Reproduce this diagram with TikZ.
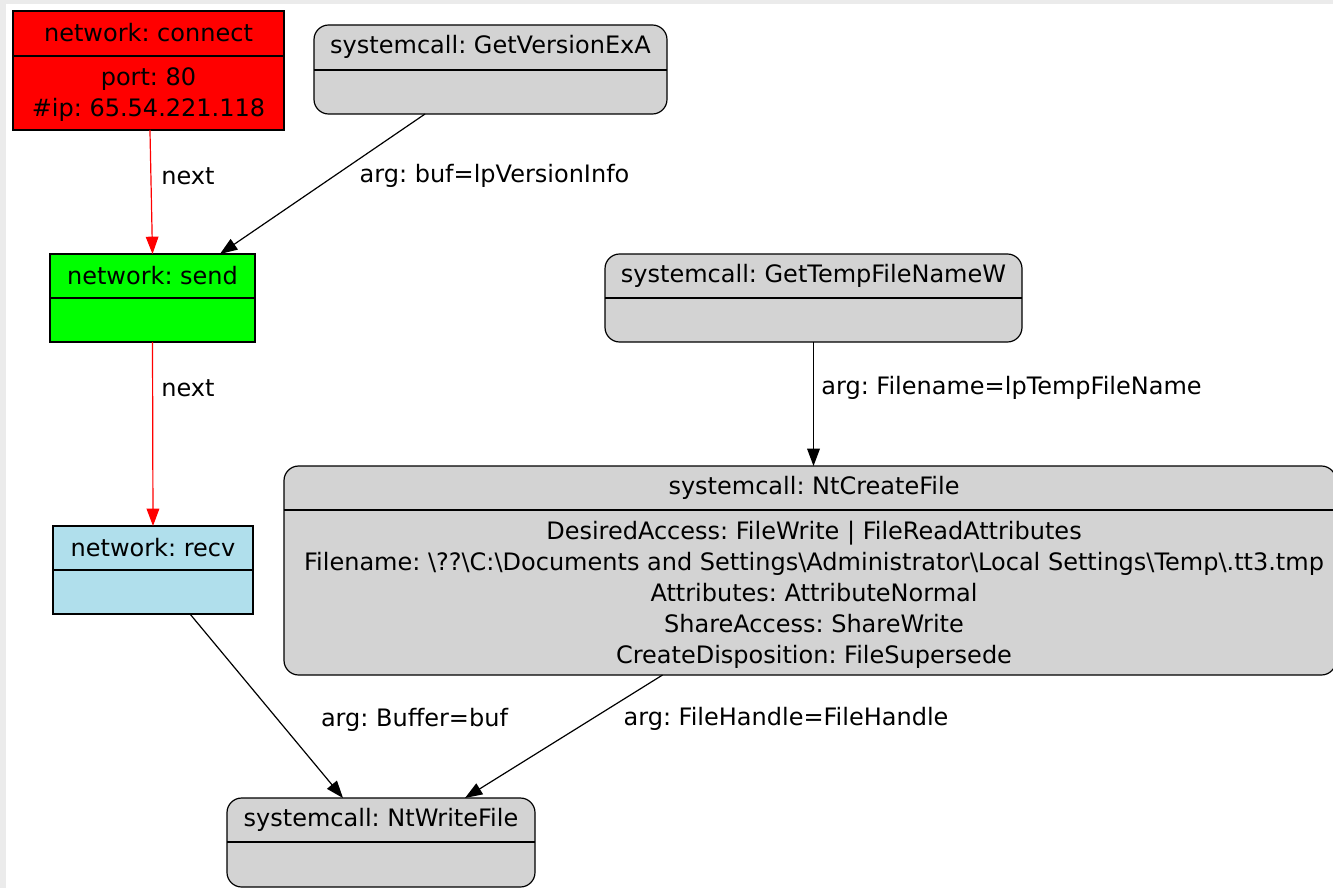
\documentclass[tikz,border=0pt]{standalone}
\usepackage{fontspec}
\setmainfont{DejaVu Sans}
\usetikzlibrary{arrows.meta}
\definecolor{bgband}{HTML}{EBEBEB}
\definecolor{lgray}{HTML}{D3D3D3}
\definecolor{lblue}{HTML}{B0DFEC}
\definecolor{gvgreen}{HTML}{00FF00}
\definecolor{gvred}{HTML}{FF0000}
\tikzset{
  box/.style={draw=black, line width=0.9pt, inner sep=0pt, outer sep=0pt},
  rbox/.style={box, rounded corners=11pt, fill=lgray},
  txt/.style={inner sep=0pt, font=\fontsize{18}{23.25}\selectfont, align=center},
  edge/.style={line width=0.9pt, -{Triangle[length=13pt,width=9.5pt]}},
  rededge/.style={edge, draw=gvred},
  divider/.style={line width=0.9pt}
}
\begin{document}
\frenchspacing
\begin{tikzpicture}[x=0.75pt,y=-0.75pt]
\useasboundingbox (0,0) rectangle (1333,888);
\fill[bgband] (0,0) rectangle (1333,888);
\fill[white] (6,4) rectangle (1333,888);

% nodes
\node[box, fill=gvred, minimum width=203.25pt, minimum height=89.25pt] (conn) at (148.5,70.5) {};
\draw[divider] (conn.west |- 0,56) -- (conn.east |- 0,56);
\node[txt] (connT) at (148.5,33) {network: connect};
\node[txt] (connB) at (148.5,95) {port: 80\\\#ip: 65.54.221.118};

\node[rbox, minimum width=264.75pt, minimum height=66.75pt] (gve) at (490.5,69.5) {};
\draw[divider] (gve.west |- 0,70) -- (gve.east |- 0,70);
\node[txt] (gveT) at (490.5,47) {systemcall: GetVersionExA};

\node[box, fill=gvgreen, minimum width=153.75pt, minimum height=66pt] (send) at (152.5,298) {};
\draw[divider] (send.west |- 0,298) -- (send.east |- 0,298);
\node[txt] (sendT) at (152.5,276) {network: send};

\node[rbox, minimum width=312.75pt, minimum height=66pt] (gtf) at (813.5,298) {};
\draw[divider] (gtf.west |- 0,298) -- (gtf.east |- 0,298);
\node[txt] (gtfT) at (813.5,276) {systemcall: GetTempFileNameW};

\node[box, fill=lblue, minimum width=150pt, minimum height=66pt] (recv) at (153,570) {};
\draw[divider] (recv.west |- 0,570) -- (recv.east |- 0,570);
\node[txt] (recvT) at (153,548) {network: recv};

\node[rbox, minimum width=789pt, minimum height=156.75pt] (nc) at (810,570.5) {};
\draw[divider] (nc.west |- 0,510) -- (nc.east |- 0,510);
\node[txt] (ncT) at (814,488) {systemcall: NtCreateFile};
\node[txt] (ncB) at (814,595) {DesiredAccess: FileWrite | FileReadAttributes\\
Filename: \textbackslash ??\textbackslash C:\textbackslash Documents and Settings\textbackslash Administrator\textbackslash Local Settings\textbackslash Temp\textbackslash .tt3.tmp\\
Attributes: AttributeNormal\\
ShareAccess: ShareWrite\\
CreateDisposition: FileSupersede};

\node[rbox, minimum width=231pt, minimum height=66.75pt] (nw) at (381,842.5) {};
\draw[divider] (nw.west |- 0,842) -- (nw.east |- 0,842);
\node[txt] (nwT) at (381,820) {systemcall: NtWriteFile};

% edges
\draw[rededge] ([xshift=1.1pt]conn.south) -- (send.north);
\node[txt] (l1) at (188,176) {next};
\draw[edge] ([xshift=-49.1pt]gve.south) -- ([xshift=50.6pt]send.north);
\node[txt] (l2) at (494.5,176) {arg: buf=lpVersionInfo};
\draw[rededge] (send.south) -- (recv.north);
\node[txt] (l3) at (188,388) {next};
\draw[edge] (gtf.south) -- (gtf.south |- nc.north);
\node[txt] (l4) at (1011.5,388) {arg: Filename=lpTempFileName};
\draw[edge] ([xshift=27.75pt]recv.south) -- ([xshift=-28.5pt]nw.north);
\node[txt] (l5) at (414.5,720) {arg: Buffer=buf};
\draw[edge] ([xshift=-110.6pt]nc.south) -- ([xshift=63pt]nw.north);
\node[txt] (l6) at (786,719) {arg: FileHandle=FileHandle};
\end{tikzpicture}
\end{document}
